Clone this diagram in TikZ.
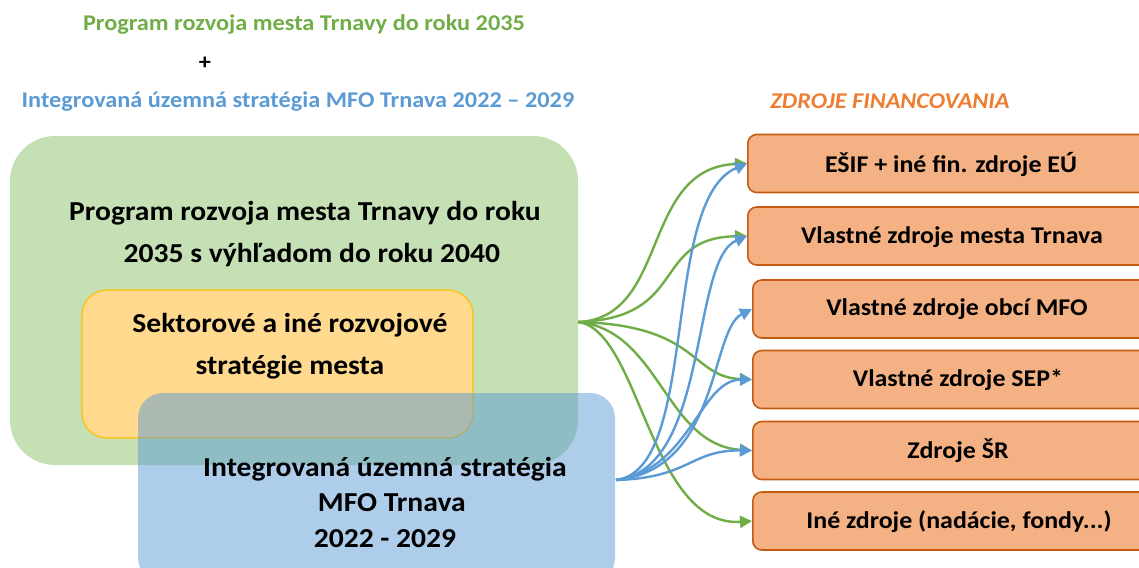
\documentclass[tikz,border=0pt]{standalone}
\usepackage{fontspec}
\setmainfont{Carlito}[FakeStretch=1.08]
\usetikzlibrary{arrows.meta}
\definecolor{gTitle}{HTML}{70AD47}
\definecolor{bTitle}{HTML}{5B9BD5}
\definecolor{oTitle}{HTML}{ED7D31}
\definecolor{gFill}{HTML}{C5E0B4}
\definecolor{yFill}{HTML}{FFD98E}
\definecolor{yLine}{HTML}{FFC000}
\definecolor{bFill}{HTML}{5B9BD5}
\definecolor{oFill}{HTML}{F4B183}
\definecolor{oLine}{HTML}{C55A11}
\tikzset{
  bigtxt/.style={font=\fontsize{27.4}{42}\selectfont\bfseries, align=center, inner sep=0pt},
  srcbox/.style={draw=oLine, line width=1.6pt, fill=oFill, rounded corners=9pt,
     minimum height=58pt, minimum width=400pt, anchor=west},
  srctxt/.style={font=\fontsize{24}{28}\selectfont\bfseries, inner sep=0pt},
  ttl/.style={font=\fontsize{22.5}{26}\selectfont\bfseries, inner sep=0pt},
  garrow/.style={draw=gTitle, line width=2.4pt, -{Triangle[width=12pt,length=12pt]}},
  barrow/.style={draw=bTitle, line width=2.4pt, -{Triangle[width=12pt,length=12pt]}},
}
\begin{document}
\begin{tikzpicture}[x=1pt,y=-1pt]
\useasboundingbox (0,0) rectangle (1139,567);
\clip (0,0) rectangle (1139,567);
% titles
\node[ttl, text=gTitle] (t1) at (304,25) {Program rozvoja mesta Trnavy do roku 2035};
\node[ttl] (plus) at (205,63) {+};
\node[ttl, text=bTitle] (t2) at (298,102) {Integrovaná územná stratégia MFO Trnava 2022 -- 2029};
\node[ttl, font=\fontsize{22.5}{26}\selectfont\bfseries\itshape, text=oTitle] (t3) at (890,101) {ZDROJE FINANCOVANIA};
% green box
\node[fill=gFill, rounded corners=45pt, minimum width=568pt, minimum height=329pt, inner sep=0pt] (green) at (294,300.5) {};
\node[bigtxt] (gtxt) at (305,234) {Program rozvoja mesta Trnavy do roku\\ \phantom{x}2035 s výhľadom do roku 2040};
% yellow box
\node[fill=yFill, draw=yLine, line width=1.2pt, rounded corners=25pt, minimum width=391pt, minimum height=148pt, inner sep=0pt] (yellow) at (277.5,364) {};
\node[bigtxt] (ytxt) at (290,346) {Sektorové a iné rozvojové\\ stratégie mesta};
% blue box
\node[fill=bFill, fill opacity=0.5, rounded corners=25pt, minimum width=477pt, minimum height=190pt, inner sep=0pt] (blue) at (376.5,488) {};
\node[font=\fontsize{27.4}{35.5}\selectfont\bfseries, align=center, inner sep=0pt] (btxt) at (385,502) {Integrovaná územná stratégia\\ \phantom{x}MFO Trnava\\ 2022 - 2029};
% source boxes
\node[srcbox] (s1) at (747,163.5) {};
\node[srcbox] (s2) at (747,236) {};
\node[srcbox] (s3) at (752,309) {};
\node[srcbox] (s4) at (752,379.5) {};
\node[srcbox] (s5) at (752,450.5) {};
\node[srcbox] (s6) at (752,521) {};
\node[srctxt] (l1) at (951,164) {EŠIF + iné fin. zdroje EÚ};
\node[srctxt] (l2) at (952,237) {Vlastné zdroje mesta Trnava};
\node[srctxt] (l3) at (957,309) {Vlastné zdroje obcí MFO};
\node[srctxt] (l4) at (958,380) {Vlastné zdroje SEP*};
\node[srctxt] (l5) at (958,451) {Zdroje ŠR};
\node[srctxt] (l6) at (959,522) {Iné zdroje (nadácie, fondy...)};
% origins
\coordinate (go) at (578,322);
\coordinate (bo) at (616,480);
% green arrows
\draw[garrow] (go) .. controls (670,318) and (640,168) .. (s1.west);
\draw[garrow] (go) .. controls (690,318) and (650,238) .. (s2.west);
\draw[garrow] (go) .. controls (700,325) and (690,377) .. (s4.west);
\draw[garrow] (go) .. controls (660,330) and (665,445) .. (s5.west);
\draw[garrow] (go) .. controls (640,330) and (650,528) .. (s6.west);
% blue arrows
\draw[barrow] (bo) .. controls (700,470) and (660,200) .. (s1.west);
\draw[barrow] (bo) .. controls (710,470) and (690,260) .. (s2.west);
\draw[barrow] (bo) .. controls (720,470) and (710,330) .. (s3.west);
\draw[barrow] (bo) .. controls (690,470) and (700,380) .. (s4.west);
\draw[barrow] (bo) .. controls (690,478) and (690,450) .. (s5.west);
\end{tikzpicture}
\end{document}
